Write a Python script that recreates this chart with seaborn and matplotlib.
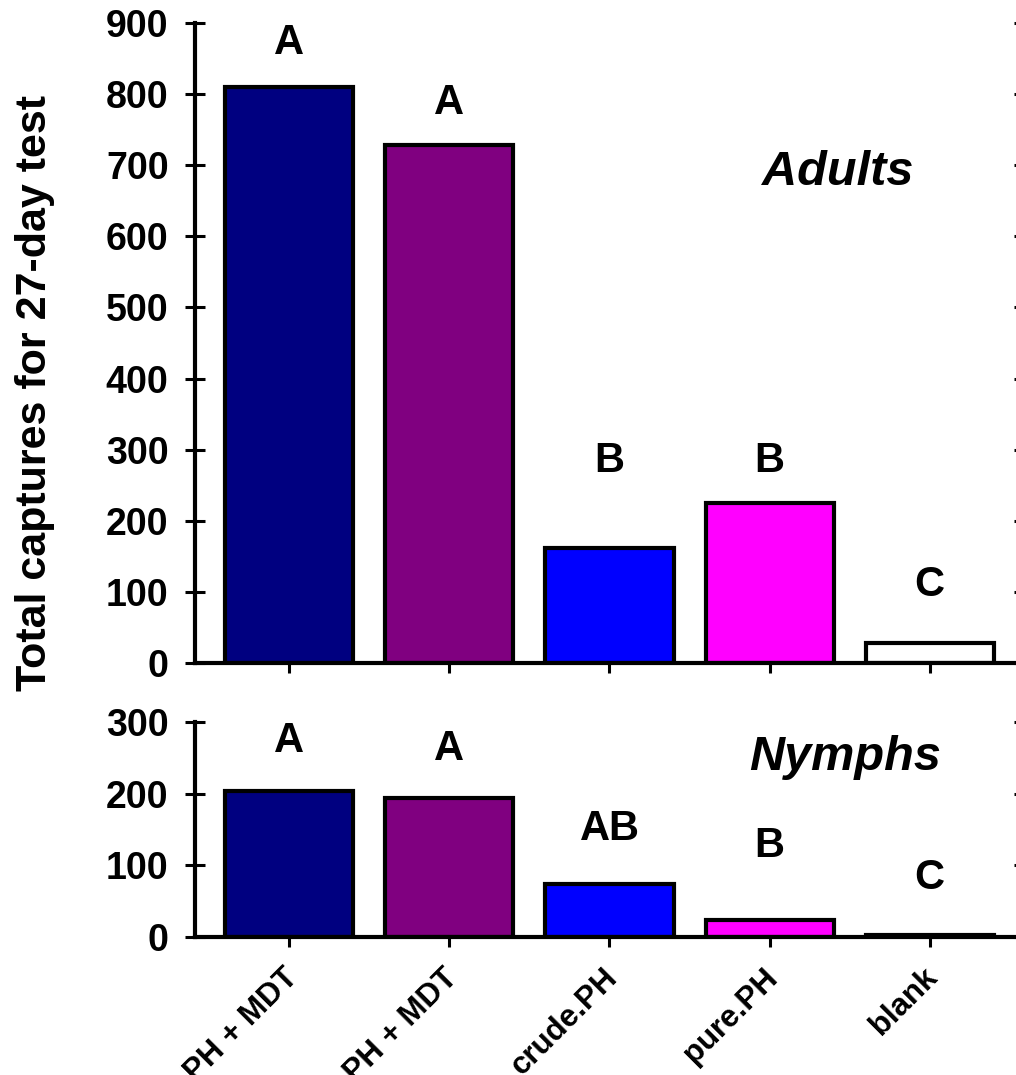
import matplotlib
matplotlib.use("Agg")
import matplotlib.pyplot as plt
import matplotlib.transforms as mtransforms
import seaborn as sns
import pandas as pd

sns.set_theme(style="white")
plt.rcParams['font.family'] = ['Liberation Sans', 'DejaVu Sans']
plt.rcParams['font.weight'] = 'bold'
plt.rcParams['text.color'] = 'black'
plt.rcParams['axes.labelcolor'] = 'black'
plt.rcParams['xtick.color'] = 'black'
plt.rcParams['ytick.color'] = 'black'

categories = ["crude.PH + MDT", "pure.PH + MDT", "crude.PH", "pure.PH", "blank"]
adults = [810, 728, 162, 225, 28]
nymphs = [204, 194, 74, 24, 3]
adult_letters = ["A", "A", "B", "B", "C"]
nymph_letters = ["A", "A", "AB", "B", "C"]
adult_letter_y = [872, 788, 284, 284, 110]
nymph_letter_y = [273, 262, 151, 127, 82]
colors = ["#000080", "#800080", "#0000FF", "#FF00FF", "#FFFFFF"]
adult_ticks = list(range(0, 901, 100))
nymph_ticks = [0, 100, 200, 300]

fig = plt.figure(figsize=(10.16, 10.75), dpi=100)
ax1 = fig.add_axes([0.1919, 0.3833, 0.816, 0.5953])
ax2 = fig.add_axes([0.1919, 0.1284, 0.816, 0.2])

df_a = pd.DataFrame({"cat": categories, "val": adults})
df_n = pd.DataFrame({"cat": categories, "val": nymphs})

for ax, df, letters, ly, ticks, ymax in [
    (ax1, df_a, adult_letters, adult_letter_y, adult_ticks, 900),
    (ax2, df_n, nymph_letters, nymph_letter_y, nymph_ticks, 300),
]:
    sns.barplot(data=df, x="cat", y="val", hue="cat", palette=colors,
                order=categories, hue_order=categories, legend=False,
                width=0.8, edgecolor="black", linewidth=3.0, saturation=1,
                ax=ax)
    ax.set_xlim(-0.59, 4.59)
    ax.set_ylim(0, ymax)
    ax.set_yticks(ticks)
    ax.set_xlabel("")
    ax.set_ylabel("")
    for i, (t, y) in enumerate(zip(letters, ly)):
        ax.text(i, y, t, ha="center", va="center", fontsize=30,
                fontweight="bold", color="black")
    ax.spines["top"].set_visible(False)
    for s in ["left", "bottom", "right"]:
        ax.spines[s].set_linewidth(3)
        ax.spines[s].set_color("black")
    ax.tick_params(axis="y", which="both", left=True, right=True, direction="inout",
                   length=14, width=2.2, labelsize=27, color="black",
                   labelcolor="black", pad=12)
    ax.tick_params(axis="x", bottom=True, direction="out", length=7, width=2.2,
                   color="black", labelcolor="black")
    for lab in ax.get_yticklabels():
        lab.set_fontweight("bold")

ax1.set_xticklabels([])
ax2.set_xticklabels(categories, rotation=45, ha="right", rotation_mode="anchor",
                    fontsize=22.5, fontweight="bold")
ax2.tick_params(axis="x", pad=10)
offset = mtransforms.ScaledTranslation(-0.07, -0.02, fig.dpi_scale_trans)
for lab in ax2.get_xticklabels():
    lab.set_transform(lab.get_transform() + offset)

ax1.text(3.425, 690, "Adults", ha="center", va="center", fontsize=35,
         fontweight="bold", fontstyle="italic", color="black")
ax2.text(3.475, 250, "Nymphs", ha="center", va="center", fontsize=35,
         fontweight="bold", fontstyle="italic", color="black")

fig.text(0.034, 0.634, "Total captures for 27-day test", rotation=90,
         ha="center", va="center", fontsize=31, fontweight="bold", color="black")

fig.savefig("out.png", dpi=100)
